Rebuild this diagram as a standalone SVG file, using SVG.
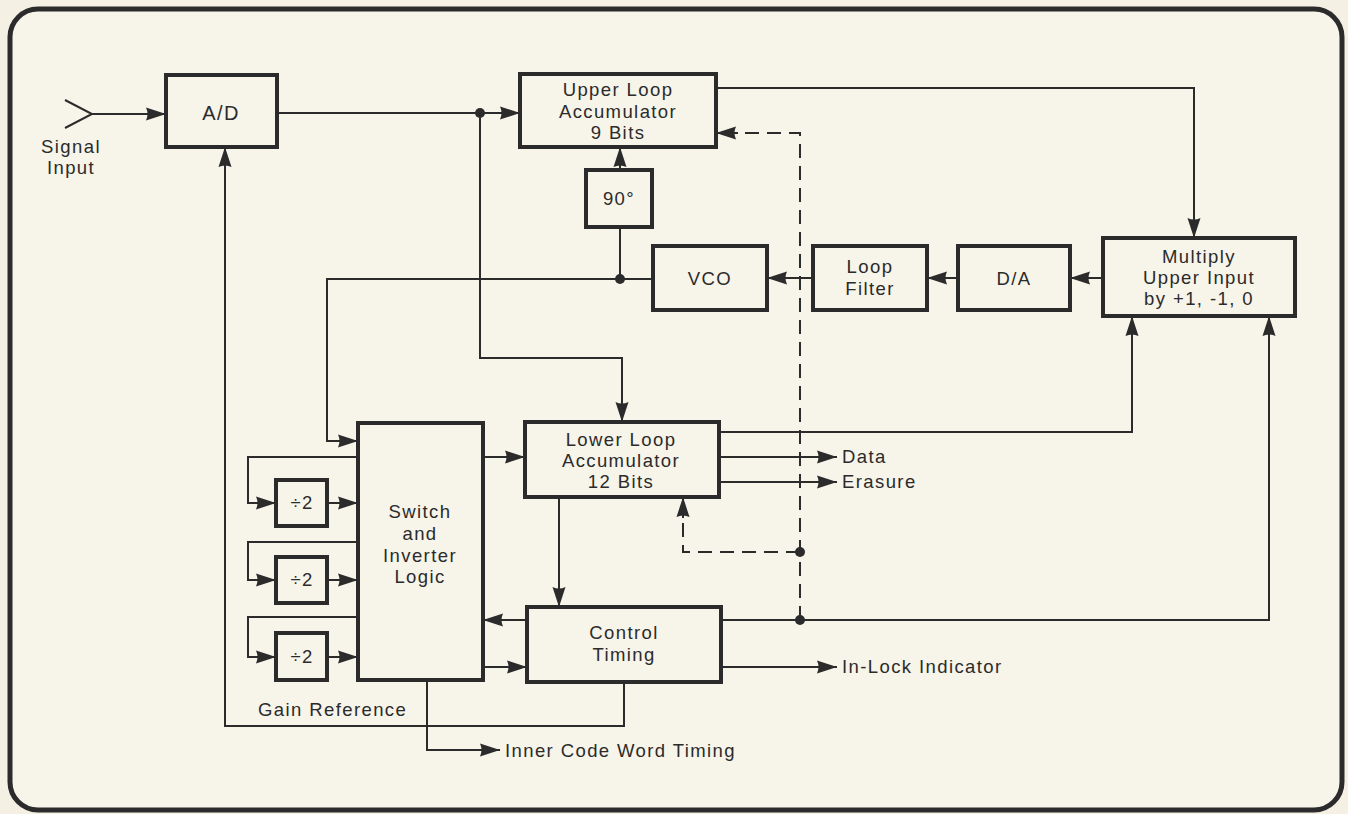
<svg xmlns="http://www.w3.org/2000/svg" width="1348" height="814" viewBox="0 0 1348 814">
<defs>
<style>
.bg{fill:#f4f0e4}
.frame{fill:#f7f4ea;stroke:#2b2b2b;stroke-width:5}
.box{fill:#f7f4ea;stroke:#2b2b2b;stroke-width:4}
.ln{fill:none;stroke:#2b2b2b;stroke-width:2}
.dash{fill:none;stroke:#2b2b2b;stroke-width:2;stroke-dasharray:14 8}
.dot{fill:#2b2b2b}
text{font-family:"Liberation Sans",Arial,sans-serif;font-size:18.5px;fill:#2b2b2b;letter-spacing:1.4px}
.c{text-anchor:middle}
</style>
<marker id="ah" viewBox="0 0 20 14" markerWidth="20" markerHeight="14" refX="20" refY="7" orient="auto" markerUnits="userSpaceOnUse">
<path d="M0,0.5 L20,7 L0,13.5 Q3,7 0,0.5 Z" fill="#2b2b2b"/>
</marker>
</defs>
<rect class="bg" x="0" y="0" width="1348" height="814"/>
<rect class="frame" x="10" y="9" width="1332" height="801" rx="28" ry="28"/>

<g id="connectors">
<path class="ln" d="M65,100 L92,114 L65,128"/>
<path class="ln" d="M92,114 L166,114" marker-end="url(#ah)"/>
<path class="ln" d="M277,113 L520,113" marker-end="url(#ah)"/>
<circle class="dot" cx="480" cy="113" r="5"/>
<path class="ln" d="M480,113 L480,358 L622,358 L622,422" marker-end="url(#ah)"/>
<path class="ln" d="M716,88 L1194,88 L1194,238" marker-end="url(#ah)"/>
<path class="ln" d="M620,170 L620,147" marker-end="url(#ah)"/>
<path class="ln" d="M653,279 L327,279 L327,441 L358,441" marker-end="url(#ah)"/>
<path class="ln" d="M620,279 L620,227"/>
<circle class="dot" cx="620" cy="279" r="5"/>
<path class="ln" d="M813,278 L767,278" marker-end="url(#ah)"/>
<path class="ln" d="M958,278 L927,278" marker-end="url(#ah)"/>
<path class="ln" d="M1103,278 L1070,278" marker-end="url(#ah)"/>
<path class="dash" d="M800,620 L800,133 L738,133"/>
<path class="ln" d="M738,133 L716,133" marker-end="url(#ah)"/>
<path class="dash" d="M800,552 L683,552 L683,518"/>
<path class="ln" d="M683,518 L683,497" marker-end="url(#ah)"/>
<circle class="dot" cx="800" cy="552" r="5"/>
<circle class="dot" cx="800" cy="620" r="5"/>
<path class="ln" d="M719,432 L1132,432 L1132,316" marker-end="url(#ah)"/>
<path class="ln" d="M719,457 L837,457" marker-end="url(#ah)"/>
<path class="ln" d="M719,482 L837,482" marker-end="url(#ah)"/>
<path class="ln" d="M483,457 L525,457" marker-end="url(#ah)"/>
<path class="ln" d="M559,497 L559,607" marker-end="url(#ah)"/>
<path class="ln" d="M527,620 L483,620" marker-end="url(#ah)"/>
<path class="ln" d="M483,667 L527,667" marker-end="url(#ah)"/>
<path class="ln" d="M721,620 L1269,620 L1269,316" marker-end="url(#ah)"/>
<path class="ln" d="M721,667 L837,667" marker-end="url(#ah)"/>
<path class="ln" d="M624,682 L624,726 L225,726 L225,147" marker-end="url(#ah)"/>
<path class="ln" d="M427,680 L427,750 L500,750" marker-end="url(#ah)"/>
<path class="ln" d="M358,457 L248,457 L248,503 L276,503" marker-end="url(#ah)"/>
<path class="ln" d="M327,503 L358,503" marker-end="url(#ah)"/>
<path class="ln" d="M358,542 L248,542 L248,580 L276,580" marker-end="url(#ah)"/>
<path class="ln" d="M327,580 L358,580" marker-end="url(#ah)"/>
<path class="ln" d="M358,617 L248,617 L248,657 L276,657" marker-end="url(#ah)"/>
<path class="ln" d="M327,657 L358,657" marker-end="url(#ah)"/>
</g>

<g id="signal-input">
<text class="c" x="71" y="153">Signal</text>
<text class="c" x="71" y="174">Input</text>
</g>
<g id="ad">
<rect class="box" x="166" y="75" width="111" height="72"/>
<text class="c" x="221" y="120" style="font-size:20px">A/D</text>
</g>
<g id="upper-acc">
<rect class="box" x="520" y="74" width="196" height="73"/>
<text class="c" x="618" y="96">Upper Loop</text>
<text class="c" x="618" y="118">Accumulator</text>
<text class="c" x="618" y="139">9 Bits</text>
</g>
<g id="phase90">
<rect class="box" x="586" y="170" width="66" height="57"/>
<text class="c" x="619" y="205">90°</text>
</g>
<g id="vco">
<rect class="box" x="653" y="246" width="114" height="64"/>
<text class="c" x="710" y="285">VCO</text>
</g>
<g id="loop-filter">
<rect class="box" x="813" y="246" width="114" height="64"/>
<text class="c" x="870" y="273">Loop</text>
<text class="c" x="870" y="295">Filter</text>
</g>
<g id="da">
<rect class="box" x="958" y="246" width="112" height="64"/>
<text class="c" x="1014" y="285">D/A</text>
</g>
<g id="multiply">
<rect class="box" x="1103" y="238" width="192" height="78"/>
<text class="c" x="1199" y="263">Multiply</text>
<text class="c" x="1199" y="284">Upper Input</text>
<text class="c" x="1199" y="305">by +1, -1, 0</text>
</g>
<g id="switch">
<rect class="box" x="358" y="423" width="125" height="257"/>
<text class="c" x="420" y="518">Switch</text>
<text class="c" x="420" y="540">and</text>
<text class="c" x="420" y="562">Inverter</text>
<text class="c" x="420" y="583">Logic</text>
</g>
<g id="div1">
<rect class="box" x="276" y="480" width="51" height="46"/>
<text class="c" x="302" y="509">÷2</text>
</g>
<g id="div2">
<rect class="box" x="276" y="557" width="51" height="46"/>
<text class="c" x="302" y="586">÷2</text>
</g>
<g id="div3">
<rect class="box" x="276" y="633" width="51" height="47"/>
<text class="c" x="302" y="663">÷2</text>
</g>
<g id="lower-acc">
<rect class="box" x="525" y="422" width="194" height="75"/>
<text class="c" x="621" y="446">Lower Loop</text>
<text class="c" x="621" y="467">Accumulator</text>
<text class="c" x="621" y="488">12 Bits</text>
</g>
<g id="control">
<rect class="box" x="527" y="607" width="194" height="75"/>
<text class="c" x="624" y="639">Control</text>
<text class="c" x="624" y="661">Timing</text>
</g>
<g id="labels">
<text x="842" y="463">Data</text>
<text x="842" y="488">Erasure</text>
<text x="842" y="673">In-Lock Indicator</text>
<text x="258" y="716">Gain Reference</text>
<text x="505" y="757">Inner Code Word Timing</text>
</g>
</svg>
